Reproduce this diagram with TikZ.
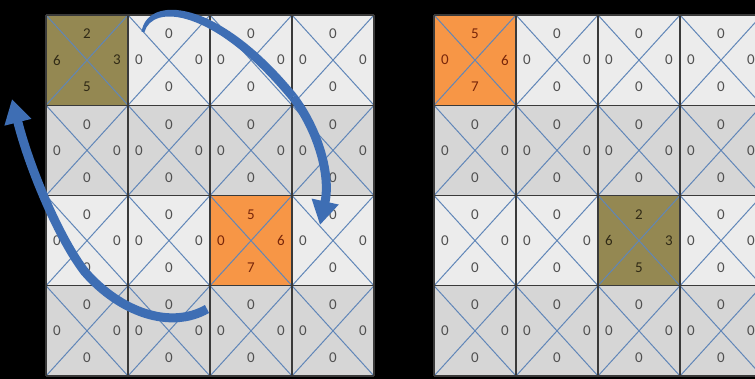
\documentclass[tikz,border=0pt]{standalone}
\usepackage{fontspec}
\setmainfont{Carlito}
\usetikzlibrary{arrows.meta}
\usepackage{xcolor}
\definecolor{lightcell}{RGB}{236,236,236}
\definecolor{darkcell}{RGB}{214,214,214}
\definecolor{olivecell}{RGB}{148,136,82}
\definecolor{orangecell}{RGB}{247,150,70}
\definecolor{diaglink}{RGB}{96,134,184}
\definecolor{gridline}{RGB}{58,58,58}
\definecolor{numgray}{RGB}{80,80,80}
\definecolor{olivetext}{RGB}{48,42,22}
\definecolor{orangetext}{RGB}{120,38,10}
\definecolor{arrowblue}{RGB}{62,110,180}

% one square: name, x, y, fill, text colour, top, left, right, bottom
\newcommand{\quadcell}[9]{%
  \fill[#4] (#2,#3) rectangle ++(82,90.25);
  \draw[diag] (#2,#3) -- ++(82,90.25) (#2+82,#3) -- ++(-82,90.25);
  \node[num, text=#5] (#1t) at (#2+41,#3+19) {#6};
  \node[num, text=#5] (#1l) at (#2+11,#3+45) {#7};
  \node[num, text=#5] (#1r) at (#2+71,#3+45) {#8};
  \node[num, text=#5] (#1b) at (#2+41,#3+72) {#9};
}

\begin{document}
\begin{tikzpicture}[x=1pt, y=-1pt,
    num/.style={font=\fontsize{15}{17}\selectfont, text=numgray, inner sep=0pt},
    diag/.style={draw=diaglink, line width=1pt},
    cellrule/.style={draw=gridline, line width=1.3pt},
    turnarrow/.style={draw=arrowblue, line width=9pt, -{Triangle[length=24pt, width=26pt]}}]
\useasboundingbox (0,0) rectangle (755,379);
\fill[black] (0,0) rectangle (755,379);
\clip (0,0) rectangle (755,379);

% plain squares
\foreach \gx/\gn in {46/L, 434/R}
  \foreach \r in {0,...,3}
    \foreach \c in {0,...,3} {
      \pgfmathsetmacro{\cx}{\gx+82*\c}
      \pgfmathsetmacro{\cy}{15+90.25*\r}
      \pgfmathtruncatemacro{\isspecial}{and(\r==\c, or(\r==0, \r==2))}
      \ifodd\r \def\cellfill{darkcell}\else \def\cellfill{lightcell}\fi
      \ifnum\isspecial=0
        \quadcell{\gn-\r-\c-}{\cx}{\cy}{\cellfill}{numgray}{0}{0}{0}{0}
      \fi
    }

% moved squares
\quadcell{L-0-0-}{46}{15}{olivecell}{olivetext}{2}{6}{3}{5}
\quadcell{L-2-2-}{210}{195.5}{orangecell}{orangetext}{5}{0}{6}{7}
\quadcell{R-0-0-}{434}{15}{orangecell}{orangetext}{5}{0}{6}{7}
\quadcell{R-2-2-}{598}{195.5}{olivecell}{olivetext}{2}{6}{3}{5}

% borders
\foreach \gx in {46, 434} {
  \foreach \c in {0,...,4} \draw[cellrule] (\gx+82*\c,15) -- ++(0,361);
  \foreach \r in {0,...,4} \draw[cellrule] (\gx,15+90.25*\r) -- ++(328,0);
}

% curved arrows
\coordinate (hopA-tail) at (143,32);
\coordinate (hopA-bend) at (293,97);
\coordinate (hopA-tip) at (320,225);
\coordinate (hopB-tail) at (207,309);
\coordinate (hopB-tip) at (12,99);
% tapered start of the upper arrow
\fill[arrowblue] (141.5,32) .. controls (147,-5) and (217,-3) .. (296.6,94.3)
  -- (289.4,99.7) .. controls (213,7) and (152,4) .. (144.5,32) -- cycle;
\draw[turnarrow] (hopA-bend) .. controls (318,130) and (331,175) .. (hopA-tip);
\draw[turnarrow] (hopB-tail) .. controls (170,330) and (120,312) .. (85,272)
  .. controls (60,240) and (30,170) .. (hopB-tip);
\end{tikzpicture}
\end{document}
